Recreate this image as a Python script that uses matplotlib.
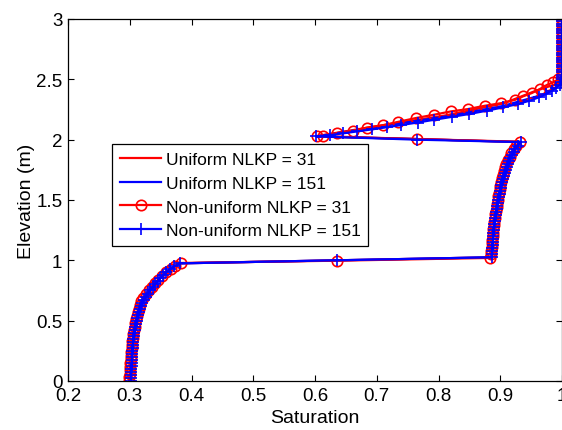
import matplotlib
matplotlib.use("Agg")
import matplotlib.pyplot as plt

plt.rcParams['font.family'] = ['Liberation Sans', 'DejaVu Sans']

# ---- data ----
# Uniform grids (lines only)
uni31_elev = [0.0, 0.2, 0.4, 0.55, 0.65, 0.75, 0.85, 0.93, 0.975, 1.0, 1.025, 1.3, 1.6, 1.8, 1.9, 1.98,
              2.005, 2.03, 2.1, 2.2, 2.3, 2.4, 2.46, 2.5, 3.0]
uni31_sat = [0.300, 0.302, 0.306, 0.312, 0.318, 0.331, 0.348, 0.366, 0.381, 0.635, 0.885, 0.890, 0.900, 0.911, 0.920, 0.932,
             0.765, 0.603, 0.686, 0.810, 0.905, 0.955, 0.990, 1.0, 1.0]
uni151_elev = [0.0, 0.2, 0.4, 0.55, 0.65, 0.75, 0.85, 0.93, 0.975, 1.0, 1.025, 1.3, 1.6, 1.8, 1.9, 1.98,
               2.005, 2.027, 2.1, 2.2, 2.28, 2.38, 2.45, 2.48, 3.0]
uni151_sat = [0.302, 0.304, 0.307, 0.313, 0.320, 0.333, 0.349, 0.367, 0.381, 0.635, 0.886, 0.890, 0.901, 0.912, 0.921, 0.933,
              0.765, 0.602, 0.692, 0.822, 0.905, 0.974, 0.995, 1.0, 1.0]

# Non-uniform grid, NLKP = 31 (circles)
non31_elev = [0.00, 0.03, 0.06, 0.09, 0.12, 0.15, 0.18, 0.21, 0.24, 0.27, 0.30, 0.33, 0.36, 0.39, 0.42, 0.45,
              0.48, 0.51, 0.54, 0.57, 0.60, 0.63, 0.66, 0.69, 0.72, 0.75, 0.78, 0.81, 0.84, 0.87, 0.90, 0.93,
              0.95, 0.978,
              0.997,
              1.02, 1.05, 1.08, 1.11, 1.14, 1.17, 1.20, 1.23, 1.26, 1.29, 1.32, 1.35, 1.38, 1.41, 1.44, 1.47,
              1.50, 1.53, 1.56, 1.59, 1.62, 1.65, 1.68, 1.71, 1.74, 1.77, 1.80, 1.83, 1.86, 1.89, 1.92, 1.95,
              1.983,
              2.005,
              2.027, 2.032, 2.055, 2.074, 2.100, 2.120, 2.148, 2.180, 2.206, 2.234, 2.253, 2.281, 2.303, 2.330,
              2.359, 2.386, 2.419, 2.452, 2.475, 2.500,
              2.525, 2.550, 2.575, 2.600, 2.625, 2.650, 2.675, 2.700, 2.725, 2.750, 2.775, 2.800, 2.825, 2.850,
              2.875, 2.900, 2.925, 2.950, 2.975, 3.000]
non31_sat = [0.299, 0.2995, 0.300, 0.300, 0.3005, 0.301, 0.3015, 0.302, 0.3025, 0.303, 0.3035, 0.304, 0.305,
             0.306, 0.307, 0.308, 0.309, 0.310, 0.312, 0.313, 0.315, 0.317, 0.319, 0.322, 0.326, 0.331, 0.336,
             0.341, 0.346, 0.352, 0.359, 0.367, 0.373, 0.3825,
             0.635,
             0.884, 0.885, 0.8855, 0.886, 0.8865, 0.887, 0.8875, 0.888, 0.889, 0.8895, 0.890, 0.891, 0.892,
             0.893, 0.894, 0.895, 0.896, 0.897, 0.898, 0.899, 0.900, 0.902, 0.903, 0.905, 0.906, 0.908, 0.910,
             0.912, 0.915, 0.918, 0.922, 0.926, 0.932,
             0.765,
             0.603, 0.613, 0.636, 0.661, 0.684, 0.710, 0.735, 0.764, 0.792, 0.820, 0.847, 0.875, 0.902, 0.924,
             0.937, 0.951, 0.964, 0.975, 0.985, 0.994,
             1.0, 1.0, 1.0, 1.0, 1.0, 1.0, 1.0, 1.0, 1.0, 1.0, 1.0, 1.0, 1.0, 1.0, 1.0, 1.0, 1.0, 1.0, 1.0, 1.0]

# Non-uniform grid, NLKP = 151 (plus)
non151_elev = [0.000, 0.025, 0.050, 0.075, 0.100, 0.125, 0.150, 0.175, 0.200, 0.225, 0.250, 0.275, 0.300,
               0.325, 0.350, 0.375, 0.400, 0.425, 0.450, 0.475, 0.500, 0.525, 0.550, 0.575, 0.600, 0.625,
               0.650, 0.675, 0.700, 0.725, 0.750, 0.775, 0.800, 0.825, 0.850, 0.875, 0.900, 0.925, 0.950, 0.975,
               1.000,
               1.025, 1.050, 1.075, 1.100, 1.125, 1.150, 1.175, 1.200, 1.225, 1.250, 1.275, 1.300, 1.325, 1.350,
               1.375, 1.400, 1.425, 1.450, 1.475, 1.500, 1.525, 1.550, 1.575, 1.600, 1.625, 1.650, 1.675, 1.700,
               1.725, 1.750, 1.775, 1.800, 1.825, 1.850, 1.875, 1.900, 1.925, 1.950, 1.980,
               2.000,
               2.027, 2.038, 2.052, 2.068, 2.085, 2.103, 2.122, 2.142, 2.165, 2.190, 2.213, 2.240, 2.268, 2.295,
               2.322, 2.350, 2.378, 2.405, 2.430, 2.455, 2.475,
               2.50, 2.52, 2.54, 2.56, 2.58, 2.60, 2.62, 2.64, 2.66, 2.68, 2.70, 2.72, 2.74, 2.76, 2.78, 2.80,
               2.82, 2.84, 2.86, 2.88, 2.90, 2.92, 2.94, 2.96, 2.98, 3.00]
non151_sat = [0.302, 0.302, 0.3022, 0.3025, 0.3027, 0.303, 0.3032, 0.3035, 0.3038, 0.304, 0.3043, 0.3046,
              0.305, 0.3055, 0.306, 0.3066, 0.3073, 0.308, 0.309, 0.310, 0.311, 0.312, 0.3135, 0.315, 0.3165,
              0.3185, 0.3205, 0.323, 0.326, 0.329, 0.333, 0.337, 0.341, 0.345, 0.349, 0.354, 0.359, 0.365,
              0.372, 0.381,
              0.635,
              0.886, 0.8865, 0.887, 0.8873, 0.8876, 0.888, 0.8884, 0.8888, 0.889, 0.8895, 0.890, 0.8905, 0.891,
              0.8918, 0.8925, 0.8933, 0.894, 0.895, 0.896, 0.897, 0.898, 0.899, 0.900, 0.901, 0.902, 0.903,
              0.9045, 0.906, 0.9075, 0.909, 0.911, 0.9125, 0.9145, 0.9165, 0.919, 0.9215, 0.9245, 0.928, 0.933,
              0.765,
              0.602, 0.625, 0.645, 0.668, 0.692, 0.716, 0.740, 0.766, 0.793, 0.822, 0.850, 0.878, 0.905, 0.928,
              0.947, 0.962, 0.974, 0.984, 0.991, 0.996, 0.999,
              1.0, 1.0, 1.0, 1.0, 1.0, 1.0, 1.0, 1.0, 1.0, 1.0, 1.0, 1.0, 1.0, 1.0, 1.0, 1.0, 1.0, 1.0, 1.0,
              1.0, 1.0, 1.0, 1.0, 1.0, 1.0, 1.0]

labels = ["Uniform NLKP = 31", "Uniform NLKP = 151", "Non-uniform NLKP = 31", "Non-uniform NLKP = 151"]
x_ticks = [0.2, 0.3, 0.4, 0.5, 0.6, 0.7, 0.8, 0.9, 1.0]
x_ticklabels = ["0.2", "0.3", "0.4", "0.5", "0.6", "0.7", "0.8", "0.9", "1"]
y_ticks = [0, 0.5, 1, 1.5, 2, 2.5, 3]
y_ticklabels = ["0", "0.5", "1", "1.5", "2", "2.5", "3"]

fig = plt.figure(figsize=(5.62, 4.31), dpi=100)
ax = fig.add_axes([0.121, 0.1137, 0.879, 0.8399])

ax.plot(uni31_sat, uni31_elev, color='red', lw=1.6, label=labels[0])
ax.plot(uni151_sat, uni151_elev, color='blue', lw=1.6, label=labels[1])
ax.plot(non31_sat, non31_elev, color='red', lw=1.6, marker='o', ms=7.5, mfc='none', mew=1.2,
        label=labels[2])
ax.plot(non151_sat, non151_elev, color='blue', lw=1.6, marker='+', ms=8, mew=1.2, label=labels[3])

ax.set_xlim(0.2, 1.0)
ax.set_ylim(0, 3)
ax.set_xticks(x_ticks)
ax.set_xticklabels(x_ticklabels)
ax.set_yticks(y_ticks)
ax.set_yticklabels(y_ticklabels)
ax.tick_params(direction='in', top=True, right=True, length=4, width=0.8, labelsize=13.5, pad=4)
for s in ax.spines.values():
    s.set_linewidth(0.9)
ax.set_xlabel("Saturation", fontsize=14, labelpad=4)
ax.set_ylabel("Elevation (m)", fontsize=14, labelpad=1)

leg = ax.legend(loc='upper left', bbox_to_anchor=(0.089, 0.655), borderaxespad=0, fontsize=12.5,
                fancybox=False, edgecolor='black', framealpha=1, numpoints=1, handlelength=2.4,
                labelspacing=0.5, handletextpad=0.25, borderpad=0.45)
leg.get_frame().set_linewidth(0.9)

fig.savefig("out.png", dpi=100)
